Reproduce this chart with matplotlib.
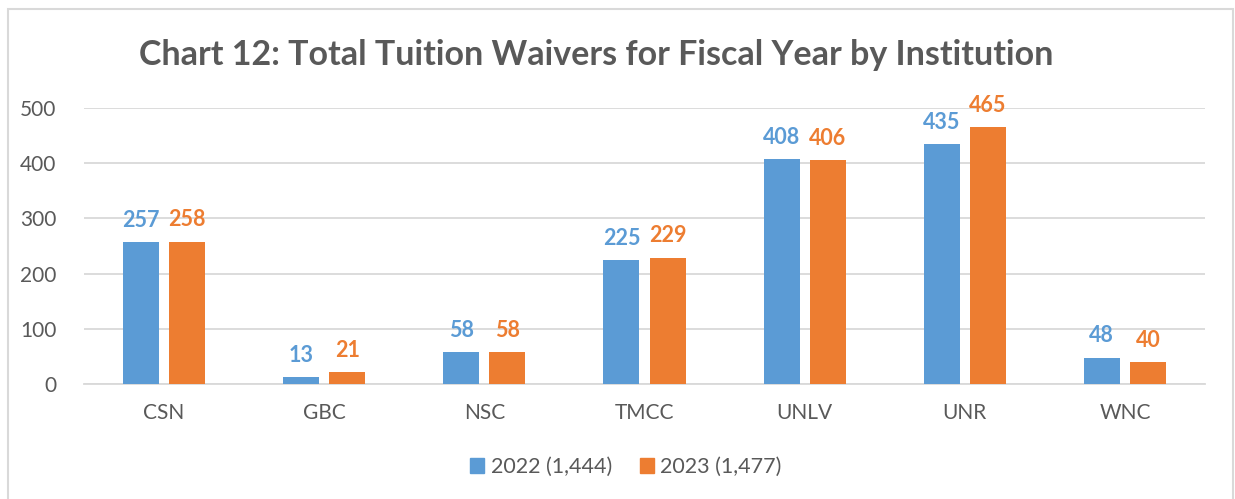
import matplotlib
matplotlib.use("Agg")
import matplotlib.pyplot as plt
from matplotlib.patches import Rectangle, Patch
import numpy as np

categories = ["CSN", "GBC", "NSC", "TMCC", "UNLV", "UNR", "WNC"]
values_2022 = [257, 13, 58, 225, 408, 435, 48]
values_2023 = [258, 21, 58, 229, 406, 465, 40]
series_labels = ["2022 (1,444)", "2023 (1,477)"]
title = "Chart 12: Total Tuition Waivers for Fiscal Year by Institution"
yticks = [0, 100, 200, 300, 400, 500]

blue = "#5B9BD5"
orange = "#ED7D31"
txt = "#595959"
grid = "#D9D9D9"
font = "Lato"

W, H = 1235, 499
fig = plt.figure(figsize=(W / 100, H / 100), dpi=100)
ax = fig.add_axes([84 / W, 1 - 384 / H, (1205 - 84) / W, (384 - 108) / H])

x = np.arange(len(categories))
bw = 0.225
off = 0.144
b1 = ax.bar(x - off, values_2022, bw, color=blue, zorder=3)
b2 = ax.bar(x + off, values_2023, bw, color=orange, zorder=3)

for bars, vals, c in [(b1, values_2022, blue), (b2, values_2023, orange)]:
    for rect, v in zip(bars, vals):
        ax.annotate(str(v), (rect.get_x() + rect.get_width() / 2, v),
                    xytext=(0, 8), textcoords="offset points",
                    ha="center", va="bottom", color=c, fontsize=15.5,
                    fontweight="bold", family=font)

ax.set_xlim(-0.5, len(categories) - 0.5)
ax.set_ylim(0, 500)
ax.set_yticks(yticks)
ax.set_xticks(x)
ax.set_xticklabels(categories)
ax.yaxis.grid(True, color=grid, linewidth=1.3, zorder=0)
ax.set_axisbelow(True)
for s in ["top", "right", "left"]:
    ax.spines[s].set_visible(False)
ax.spines["bottom"].set_color(grid)
ax.spines["bottom"].set_linewidth(1.3)
ax.tick_params(axis="both", length=0, colors=txt, labelsize=15)
ax.tick_params(axis="y", pad=20)
ax.tick_params(axis="x", pad=14)
for lab in ax.get_xticklabels() + ax.get_yticklabels():
    lab.set_family(font)

fig.text(596 / W, 1 - 55 / H, title, ha="center", va="center",
         fontsize=24.5, fontweight="bold", color=txt, family=font)

handles = [Patch(color=blue), Patch(color=orange)]
fig.legend(handles, series_labels, loc="center", bbox_to_anchor=(626 / W, 1 - 467 / H),
           ncol=2, frameon=False, handlelength=0.65, handleheight=0.65,
           handletextpad=0.3, columnspacing=1.3,
           prop={"family": font, "size": 15.5}, labelcolor=txt)

fig.patches.append(Rectangle((8 / W, -0.05), (1233 - 8) / W, 1 - 9 / H + 0.05,
                             transform=fig.transFigure, fill=False,
                             edgecolor=grid, linewidth=1.5))

fig.savefig("out.png", dpi=100)
